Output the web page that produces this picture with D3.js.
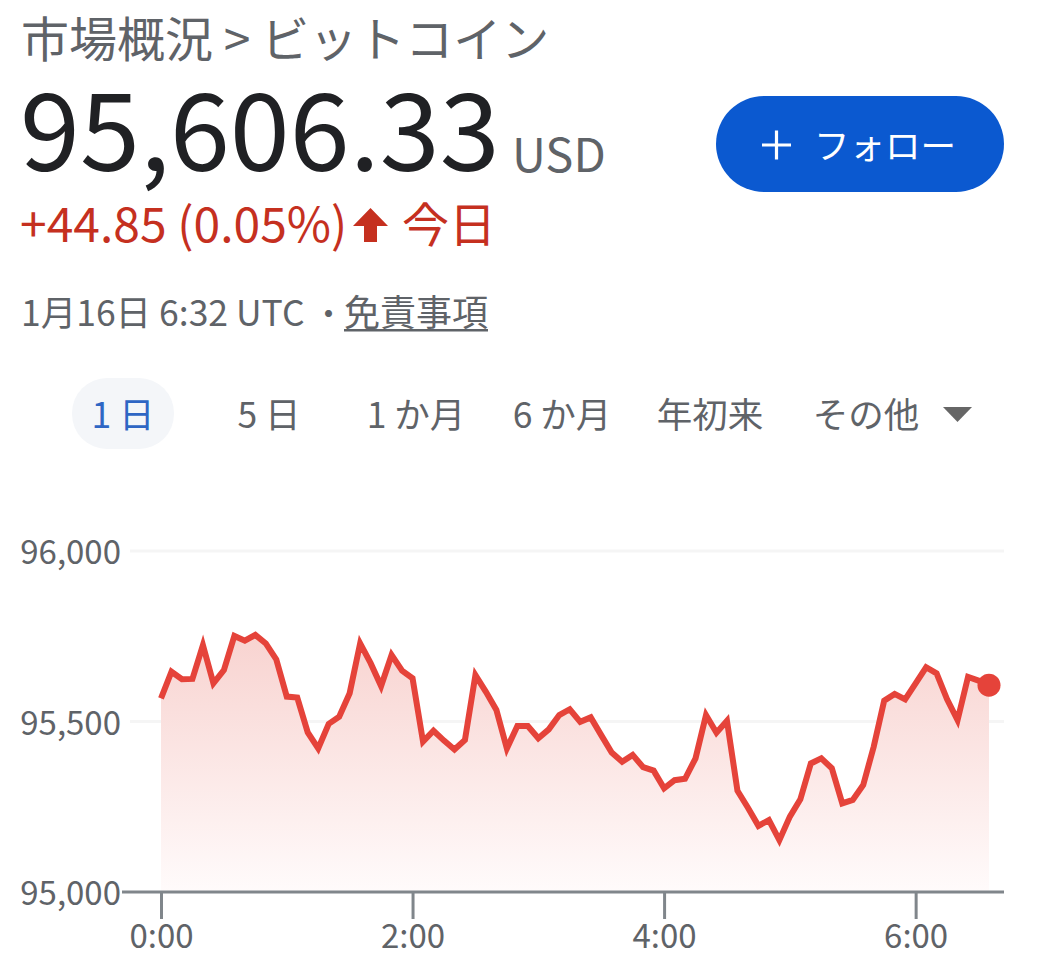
<!DOCTYPE html>
<html><head><meta charset="utf-8">
<script src="https://cdn.jsdelivr.net/npm/d3@7/dist/d3.min.js"></script>
<style>
html,body{margin:0;padding:0;background:#fff}
svg{display:block}
text{font-family:"Noto Sans CJK JP","Noto Sans",sans-serif}
</style></head><body><svg id="c" width="1052" height="963"></svg>
<script>
const minutes = d3.range(0, 400, 5);
const prices = [95568,95646,95624,95625,95724,95612,95651,95751,95737,95754,95729,95682,95573,95570,95468,95421,95493,95514,95583,95729,
95671,95604,95695,95649,95627,95441,95473,95444,95418,95446,95636,95587,95534,95421,95487,95487,95451,95477,95519,95536,
95499,95512,95460,95409,95382,95402,95366,95356,95304,95328,95332,95392,95519,95467,95502,95297,95247,95194,95211,95152,
95221,95272,95377,95392,95363,95260,95270,95314,95426,95561,95581,95565,95612,95659,95641,95565,95504,95631,95620,95606.33];
const yTicks = [95000,95500,96000];
const xTicks = [0,120,240,360];
const xTickLabels = ["0:00","2:00","4:00","6:00"];
const tabs = ["1 日","5 日","1 か月","6 か月","年初来","その他"];
const tabCenters = [123,269,416,562,710,866];

const svg = d3.select("#c");
const x = d3.scaleLinear().domain([0,395]).range([161,989]);
const y = d3.scaleLinear().domain([95000,96000]).range([892,551]);
const pts = minutes.map((m,i)=>({m,v:prices[i]}));

const grad = svg.append("defs").append("linearGradient").attr("id","g").attr("x1",0).attr("x2",0).attr("y1",0).attr("y2",1);
grad.append("stop").attr("offset",0).attr("stop-color","#f8d3d0");
grad.append("stop").attr("offset",1).attr("stop-color","#fffbfb");

// header
const t=(s,px,py,size,fill,anchor,w)=>svg.append("text").attr("x",px).attr("y",py).attr("font-size",size).attr("fill",fill).attr("text-anchor",anchor||"start").attr("font-weight",w||400).text(s);
t("市場概況 > ビットコイン",21,57,48,"#5f6368");
t("95,606.33",20,171,108,"#202124");
t("USD",512,172,47,"#5f6368");
t("+44.85 (0.05%)",20,242,48,"#c5301f");
svg.append("path").attr("d","M353 226 L370.5 208 L388 226 L377 226 L377 242 L364 242 L364 226 Z").attr("fill","#c5301f");
t("今日",402,242,47,"#c5301f");
t("1月16日 6:32 UTC",21,326,35.5,"#5f6368");
t("・",312,326,33,"#5f6368");
t("免責事項",344,326,36,"#5f6368");
svg.append("rect").attr("x",344).attr("y",329).attr("width",144).attr("height",2.5).attr("fill","#5f6368");

// button
svg.append("rect").attr("x",716).attr("y",96).attr("width",288).attr("height",96).attr("rx",48).attr("fill","#0b59d0");
svg.append("path").attr("d","M762 145 H791 M776.5 130.5 V159.5").attr("stroke","#fff").attr("stroke-width",3.2);
t("フォロー",814,159,35.5,"#fff","start",400);

// tabs
svg.append("rect").attr("x",72).attr("y",378).attr("width",102).attr("height",71).attr("rx",35).attr("fill","#f4f6f9");
svg.selectAll(".tab").data(tabs).join("text").attr("class","tab")
  .attr("x",(d,i)=>tabCenters[i]).attr("y",428).attr("text-anchor","middle").attr("font-size",35.5).attr("font-weight",400)
  .attr("fill",(d,i)=>i===0?"#2f66c4":"#5f6368").text(d=>d);
svg.append("path").attr("d","M943 407 H972 L957.5 422 Z").attr("fill","#666");

// grid
svg.append("g").selectAll("line").data(yTicks.slice(1)).join("line")
  .attr("x1",130).attr("x2",1004).attr("y1",d=>y(d)).attr("y2",d=>y(d)).attr("stroke","#f5f5f5").attr("stroke-width",3);

// area + line
svg.append("path").datum(pts).attr("fill","url(#g)")
  .attr("d",d3.area().x(d=>x(d.m)).y0(y(95000)).y1(d=>y(d.v)));
svg.append("path").datum(pts).attr("fill","none").attr("stroke","#e5433a").attr("stroke-width",6).attr("stroke-linejoin","miter")
  .attr("d",d3.line().x(d=>x(d.m)).y(d=>y(d.v)));
svg.append("circle").attr("cx",x(395)).attr("cy",y(prices[prices.length-1])).attr("r",11.5).attr("fill","#e5433a");

// axes
const ax = svg.append("g").attr("transform",`translate(0,${y(95000)})`)
  .call(d3.axisBottom(x).tickValues(xTicks).tickFormat((d,i)=>xTickLabels[i]).tickSize(27).tickPadding(6));
ax.select(".domain").remove();
ax.selectAll("line").attr("stroke","#80868b").attr("stroke-width",3);
ax.selectAll("text").attr("font-size",33).attr("font-weight",400).attr("fill","#5f6368").attr("font-family",'"Noto Sans CJK JP"');
svg.append("line").attr("x1",122).attr("x2",1004).attr("y1",y(95000)).attr("y2",y(95000)).attr("stroke","#80868b").attr("stroke-width",3);

const ay = svg.append("g").attr("transform","translate(121,2)")
  .call(d3.axisLeft(y).tickValues(yTicks).tickFormat(d3.format(",")).tickSize(0).tickPadding(0));
ay.select(".domain").remove();
ay.selectAll("text").attr("font-size",33).attr("font-weight",400).attr("fill","#5f6368").attr("font-family",'"Noto Sans CJK JP"');
</script></body></html>
